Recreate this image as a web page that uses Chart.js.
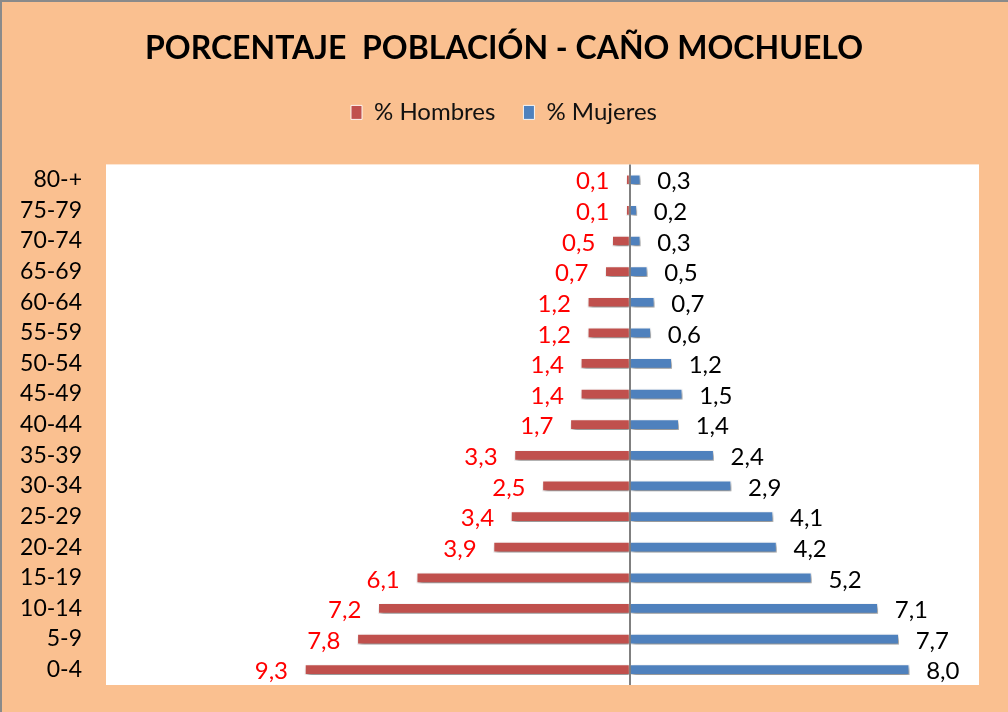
<!DOCTYPE html>
<html>
<head>
<meta charset="utf-8">
<script src="https://cdn.jsdelivr.net/npm/chart.js@4.4.1/dist/chart.umd.min.js"></script>
<style>
  html, body { margin:0; padding:0; background:#FAC090; }
  #wrap { width:1008px; height:712px; position:relative; }
</style>
</head>
<body>
<div id="wrap"><canvas id="grafico"></canvas></div>
<script>
// grupos de edad, de arriba hacia abajo
const edades = ['80-+','75-79','70-74','65-69','60-64','55-59','50-54','45-49','40-44','35-39','30-34','25-29','20-24','15-19','10-14','5-9','0-4'];
const hombres = [0.1,0.1,0.5,0.7,1.2,1.2,1.4,1.4,1.7,3.3,2.5,3.4,3.9,6.1,7.2,7.8,9.3];
const mujeres = [0.3,0.2,0.3,0.5,0.7,0.6,1.2,1.5,1.4,2.4,2.9,4.1,4.2,5.2,7.1,7.7,8.0];

const FONT = 'Lato';
const fmt = v => v.toFixed(1).replace('.', ',');

// fondo, borde y area blanca
const fondo = {
  id: 'fondo',
  beforeDraw(chart) {
    const {ctx, chartArea: a} = chart;
    ctx.save();
    ctx.fillStyle = '#FAC090';
    ctx.fillRect(0, 0, chart.width, chart.height);
    ctx.strokeStyle = '#8a8a8a';
    ctx.lineWidth = 2;
    ctx.strokeRect(1, 1, chart.width + 5, chart.height + 5);
    ctx.fillStyle = '#ffffff';
    ctx.fillRect(a.left, a.top, a.right - a.left, a.bottom - a.top);
    ctx.restore();
  }
};

// sombra de las barras + etiquetas de valores
const etiquetas = {
  id: 'etiquetas',
  beforeDatasetsDraw(chart) {
    const ctx = chart.ctx;
    ctx.save();
    ctx.shadowColor = 'rgba(0,0,0,0.45)';
    ctx.shadowBlur = 4;
    ctx.shadowOffsetX = 2;
    ctx.shadowOffsetY = 3;
  },
  afterDatasetsDraw(chart) {
    const ctx = chart.ctx;
    ctx.restore();
    ctx.save();
    ctx.font = '24px ' + FONT;
    ctx.textBaseline = 'middle';
    chart.getDatasetMeta(0).data.forEach((el, i) => {
      ctx.fillStyle = '#FF0000';
      ctx.textAlign = 'right';
      ctx.fillText(fmt(hombres[i]), el.x - 17, el.y + 2);
    });
    chart.getDatasetMeta(1).data.forEach((el, i) => {
      ctx.fillStyle = '#000000';
      ctx.textAlign = 'left';
      ctx.fillText(fmt(mujeres[i]), el.x + 17, el.y + 2);
    });
    ctx.restore();
  }
};

// espacio extra debajo de la leyenda
const leyendaAlto = {
  id: 'leyendaAlto',
  beforeInit(chart) {
    const fit = chart.legend.fit;
    chart.legend.fit = function() {
      fit.call(this);
      this.height = 92;
    };
  }
};

new Chart(document.getElementById('grafico'), {
  type: 'bar',
  data: {
    labels: edades,
    datasets: [{
      label: '% Hombres',
      data: hombres.map(v => -v),
      backgroundColor: '#C0504D',
      borderColor: 'rgba(255,255,255,0.9)',
      borderWidth: 1,
      barThickness: 10
    },{
      label: '% Mujeres',
      data: mujeres,
      backgroundColor: '#4F81BD',
      borderColor: 'rgba(255,255,255,0.9)',
      borderWidth: 1,
      barThickness: 10
    }]
  },
  options: {
    indexAxis: 'y',
    responsive: true,
    maintainAspectRatio: false,
    animation: false,
    layout: { padding: { left: 0, right: 0, bottom: 27, top: 0 } },
    plugins: {
      title: {
        display: true,
        text: 'PORCENTAJE  POBLACIÓN - CAÑO MOCHUELO',
        color: '#000000',
        font: { family: FONT, size: 32, weight: 'bold', lineHeight: 1.2 },
        padding: { top: 29, bottom: 5 }
      },
      legend: {
        display: true,
        position: 'top',
        labels: {
          color: '#111111',
          font: { family: FONT, size: 24 },
          boxWidth: 11,
          boxHeight: 14,
          padding: 28
        }
      },
      tooltip: { enabled: false }
    },
    scales: {
      x: {
        stacked: true,
        min: -15,
        max: 10,
        z: 1,
        afterFit: s => { s.height = 0; },
        border: { display: false },
        ticks: { display: false, stepSize: 5 },
        grid: {
          drawTicks: false,
          lineWidth: 2,
          color: c => c.tick && c.tick.value === 0 ? '#808080' : 'rgba(0,0,0,0)'
        }
      },
      y: {
        stacked: true,
        border: { display: false },
        grid: { display: false },
        afterFit: s => { s.width = 106; s.paddingTop = 0; s.paddingBottom = 0; },
        ticks: { color: '#000000', font: { family: FONT, size: 23 }, padding: 16 }
      },
      // margen derecho del area de trazado
      yDer: {
        type: 'category',
        position: 'right',
        labels: edades,
        border: { display: false },
        grid: { display: false },
        ticks: { display: false },
        afterFit: s => { s.width = 29; s.paddingTop = 0; s.paddingBottom = 0; }
      }
    }
  },
  plugins: [fondo, etiquetas, leyendaAlto]
});
</script>
</body>
</html>
